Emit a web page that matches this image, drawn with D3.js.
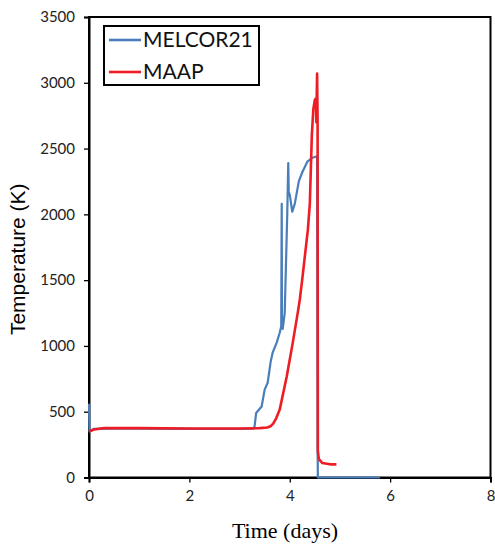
<!DOCTYPE html>
<html>
<head>
<meta charset="utf-8">
<script src="https://cdn.jsdelivr.net/npm/d3@7"></script>
<style>
  body { margin: 0; background: #fff; }
  svg { display: block; }
</style>
</head>
<body>
<div id="target"></div>
<script>
// time in days, temperature in K
let melcorTime = [0, 0.01, 0.1, 0.5, 1, 2, 3, 3.28, 3.30, 3.33, 3.44, 3.50, 3.56, 3.62, 3.66, 3.74, 3.80, 3.83, 3.84, 3.845, 3.86, 3.90, 3.95, 3.97, 3.98, 4.00, 4.05, 4.10, 4.18, 4.25, 4.35, 4.45, 4.53, 4.545, 4.555, 4.56, 5.0, 5.8]
let melcorTemp = [560, 350, 370, 372, 372, 370, 370, 372, 390, 490, 540, 668, 720, 880, 950, 1025, 1100, 1150, 2080, 1200, 1130, 1250, 2000, 2390, 2170, 2150, 2020, 2080, 2250, 2320, 2400, 2430, 2440, 2440, 230, 0, 0, 0]

let maapTime = [0, 0.1, 0.3, 1, 2, 3, 3.4, 3.55, 3.62, 3.67, 3.73, 3.80, 3.94, 4.06, 4.16, 4.20, 4.25, 4.30, 4.36, 4.40, 4.44, 4.47, 4.50, 4.52, 4.53, 4.545, 4.555, 4.56, 4.58, 4.65, 4.8, 4.93]
let maapTemp = [350, 365, 375, 375, 372, 372, 375, 380, 390, 410, 450, 516, 767, 1025, 1253, 1351, 1510, 1678, 1880, 2080, 2600, 2800, 2870, 2880, 2700, 3070, 2700, 200, 140, 110, 100, 100]

let xTicks = [0, 2, 4, 6, 8]
let yTicks = [0, 500, 1000, 1500, 2000, 2500, 3000, 3500]

let seriesNames = ["MELCOR21", "MAAP"]
let seriesColors = ["#4a7ebb", "#ee1c24"]

let chart = () => {
    let ob = {}
    ob.width = 495
    ob.height = 546
    ob.margin = {left: 89, right: 4, top: 17, bottom: 68}

    ob.make = () => {
        let m = ob.margin
        ob.svg = d3.select("#target").append("svg")
            .attr("width", ob.width)
            .attr("height", ob.height)

        ob.x = d3.scaleLinear().domain([0, 8]).range([m.left, ob.width - m.right - 0.5])
        ob.y = d3.scaleLinear().domain([0, 3500]).range([ob.height - m.bottom - 0.5, m.top])

        // frame
        ob.svg.append("rect")
            .attr("x", ob.x(0)).attr("y", ob.y(3500))
            .attr("width", ob.x(8) - ob.x(0))
            .attr("height", ob.y(0) - ob.y(3500))
            .attr("fill", "none").attr("stroke", "#000").attr("stroke-width", 2)

        // axes
        let xAxis = ob.svg.append("g")
            .attr("transform", `translate(0,${ob.y(0)})`)
            .call(d3.axisBottom(ob.x).tickValues(xTicks).tickSize(5).tickPadding(8).tickFormat(d3.format("d")))
        let yAxis = ob.svg.append("g")
            .attr("transform", `translate(${ob.x(0)},0)`)
            .call(d3.axisLeft(ob.y).tickValues(yTicks).tickSize(5).tickPadding(9).tickFormat(d3.format("d")))
        for (let a of [xAxis, yAxis]) {
            a.select(".domain").attr("stroke", "#000").attr("stroke-width", 2)
            a.selectAll(".tick line").attr("stroke", "#000").attr("stroke-width", 1.3)
            a.selectAll(".tick text")
                .attr("fill", "#222")
                .style("font-family", "Lato, 'Open Sans', sans-serif")
                .style("font-size", "15px")
        }

        // series drawn over the axes (blue zero run sits on the x axis)
        let line = d3.line().x(d => ob.x(d[0])).y(d => ob.y(d[1]))
        let melcor = melcorTime.map((t, i) => [t, melcorTemp[i]])
        let maap = maapTime.map((t, i) => [t, maapTemp[i]])

        ob.svg.append("path").datum(melcor)
            .attr("d", line).attr("fill", "none")
            .attr("stroke", seriesColors[0]).attr("stroke-width", 2.2)
            .attr("stroke-linejoin", "round")
        ob.svg.append("path").datum(maap)
            .attr("d", line).attr("fill", "none")
            .attr("stroke", seriesColors[1]).attr("stroke-width", 2.6)
            .attr("stroke-linejoin", "round")

        // axis titles
        ob.svg.append("text")
            .attr("transform", `translate(25,${(ob.y(0) + ob.y(3500)) / 2 + 12}) rotate(-90)`)
            .attr("text-anchor", "middle")
            .style("font-family", "'Liberation Sans', Arial, sans-serif")
            .style("font-size", "21px")
            .text("Temperature (K)")
        ob.svg.append("text")
            .attr("x", 285).attr("y", 538)
            .attr("text-anchor", "middle")
            .style("font-family", "'Liberation Serif', 'Times New Roman', serif")
            .style("font-size", "22px")
            .text("Time (days)")

        // legend
        let lg = ob.svg.append("g")
        lg.append("rect")
            .attr("x", 104).attr("y", 26).attr("width", 155).attr("height", 59)
            .attr("fill", "#fff").attr("stroke", "#000").attr("stroke-width", 2)
        seriesNames.forEach((name, i) => {
            let yy = 40 + i * 32
            lg.append("line")
                .attr("x1", 109).attr("x2", 141).attr("y1", yy).attr("y2", yy)
                .attr("stroke", seriesColors[i]).attr("stroke-width", 2.6)
            lg.append("text")
                .attr("x", 143).attr("y", yy + 7)
                .style("font-family", "Lato, 'Open Sans', sans-serif")
                .style("font-size", "21px")
                .attr("fill", "#111")
                .text(name)
        })
    }
    return ob
}

let c = chart()
c.make()
</script>
</body>
</html>
